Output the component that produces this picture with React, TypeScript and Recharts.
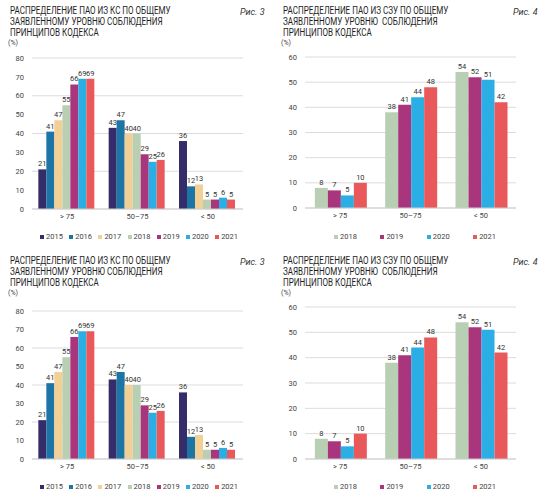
import { BarChart, Bar, XAxis, YAxis, CartesianGrid, Legend, LabelList } from 'recharts';

const categories = ['> 75', '50–75', '< 50'];

// Рис. 3 — КС
const ksYears = ['2015', '2016', '2017', '2018', '2019', '2020', '2021'];
const ks2015 = [21, 43, 36];
const ks2016 = [41, 47, 12];
const ks2017 = [47, 40, 13];
const ks2018 = [55, 40, 5];
const ks2019 = [66, 29, 5];
const ks2020 = [69, 25, 6];
const ks2021 = [69, 26, 5];
const ksTicks = [0, 10, 20, 30, 40, 50, 60, 70, 80];

// Рис. 4 — СЗУ
const szuYears = ['2018', '2019', '2020', '2021'];
const szu2018 = [8, 38, 54];
const szu2019 = [7, 41, 52];
const szu2020 = [5, 44, 51];
const szu2021 = [10, 48, 42];
const szuTicks = [0, 10, 20, 30, 40, 50, 60];

const yearColors: Record<string, string> = {
  '2015': '#352c6a',
  '2016': '#1d75a6',
  '2017': '#f2cf95',
  '2018': '#b8cfb3',
  '2019': '#a9367c',
  '2020': '#2aaee3',
  '2021': '#e9585a',
};

const ksData = categories.map((cat, i) => ({
  cat,
  '2015': ks2015[i],
  '2016': ks2016[i],
  '2017': ks2017[i],
  '2018': ks2018[i],
  '2019': ks2019[i],
  '2020': ks2020[i],
  '2021': ks2021[i],
}));

const szuData = categories.map((cat, i) => ({
  cat,
  '2018': szu2018[i],
  '2019': szu2019[i],
  '2020': szu2020[i],
  '2021': szu2021[i],
}));

const font = 'Roboto, "Open Sans", sans-serif';

interface PanelProps {
  x: number;
  y: number;
  title: string[];
  fig: string;
  data: any[];
  years: string[];
  ticks: number[];
  plotTop: number;
  plotBottom: number;
  gap: string;
  legendLeft: number;
  legendWidth: number;
}

function Panel({ x, y, title, fig, data, years, ticks, plotTop, plotBottom, gap, legendLeft, legendWidth }: PanelProps) {
  const h = 250;
  const xAxisH = 20;
  return (
    <div style={{ position: 'absolute', left: x, top: y, width: 273, height: h, fontFamily: font }}>
      <div
        style={{
          position: 'absolute',
          left: 10,
          top: 6,
          fontSize: 11,
          lineHeight: '10.8px',
          color: '#1e1e1e',
          whiteSpace: 'pre',
          transform: 'scaleX(0.73)',
          transformOrigin: 'left top',
        }}
      >
        {title.join('\n')}
      </div>
      <div style={{ position: 'absolute', left: 240, top: 7, fontSize: 9, fontStyle: 'italic', color: '#333' }}>{fig}</div>
      <div style={{ position: 'absolute', left: 8, top: 39, fontSize: 7, color: '#444' }}>(%)</div>
      <div style={{ position: 'absolute', left: 0, top: 0 }}>
        <BarChart
          width={273}
          height={h}
          data={data}
          margin={{ top: plotTop, right: 30, bottom: h - plotBottom - xAxisH, left: 8 }}
          barCategoryGap={gap}
          barGap={0}
        >
          <CartesianGrid vertical={false} stroke="#dcdcdc" />
          <XAxis
            dataKey="cat"
            height={xAxisH}
            stroke="#cfcfcf"
            tickLine={false}
            tickSize={3}
            tick={{ fontSize: 7.5, fill: '#444', fontFamily: font }}
          />
          <YAxis
            width={24}
            domain={[0, ticks[ticks.length - 1]]}
            ticks={ticks}
            axisLine={false}
            tickLine={false}
            tick={{ fontSize: 7.5, fill: '#444', fontFamily: font }}
          />
          <Legend
            verticalAlign="middle"
            align="center"
            wrapperStyle={{ top: 232, left: legendLeft, width: legendWidth }}
            content={({ payload }: any) => (
              <div style={{ display: 'flex', justifyContent: 'space-between', fontSize: 7.5, color: '#444', fontFamily: font }}>
                {(payload || []).map((p: any) => (
                  <span key={p.value} style={{ display: 'flex', alignItems: 'center' }}>
                    <span style={{ display: 'inline-block', width: 4, height: 4, background: p.color, marginRight: 2 }} />
                    {p.value}
                  </span>
                ))}
              </div>
            )}
          />
          {years.map((yr) => (
            <Bar key={yr} dataKey={yr} name={yr} fill={yearColors[yr]} isAnimationActive={false}>
              <LabelList dataKey={yr} position="top" offset={3} style={{ fontSize: 7.5, fill: '#333', fontFamily: font }} />
            </Bar>
          ))}
        </BarChart>
      </div>
    </div>
  );
}

const ksTitle = ['РАСПРЕДЕЛЕНИЕ ПАО ИЗ КС ПО ОБЩЕМУ', 'ЗАЯВЛЕННОМУ УРОВНЮ СОБЛЮДЕНИЯ', 'ПРИНЦИПОВ КОДЕКСА'];
const szuTitle = ['РАСПРЕДЕЛЕНИЕ ПАО ИЗ СЗУ ПО ОБЩЕМУ', 'ЗАЯВЛЕННОМУ УРОВНЮ  СОБЛЮДЕНИЯ', 'ПРИНЦИПОВ КОДЕКСА'];

export default function App() {
  return (
    <div style={{ position: 'absolute', left: 0, top: 0, width: 546, height: 500, background: '#fff', overflow: 'hidden' }}>
      <Panel x={0} y={0} title={ksTitle} fig="Рис. 3" data={ksData} years={ksYears} ticks={ksTicks}
        plotTop={58} plotBottom={209} gap="9%" legendLeft={40} legendWidth={198} />
      <Panel x={273} y={0} title={szuTitle} fig="Рис. 4" data={szuData} years={szuYears} ticks={szuTicks}
        plotTop={57} plotBottom={208} gap="14%" legendLeft={61} legendWidth={162} />
      <Panel x={0} y={250} title={ksTitle} fig="Рис. 3" data={ksData} years={ksYears} ticks={ksTicks}
        plotTop={61} plotBottom={209} gap="9%" legendLeft={40} legendWidth={198} />
      <Panel x={273} y={250} title={szuTitle} fig="Рис. 4" data={szuData} years={szuYears} ticks={szuTicks}
        plotTop={57} plotBottom={209} gap="14%" legendLeft={61} legendWidth={162} />
    </div>
  );
}
